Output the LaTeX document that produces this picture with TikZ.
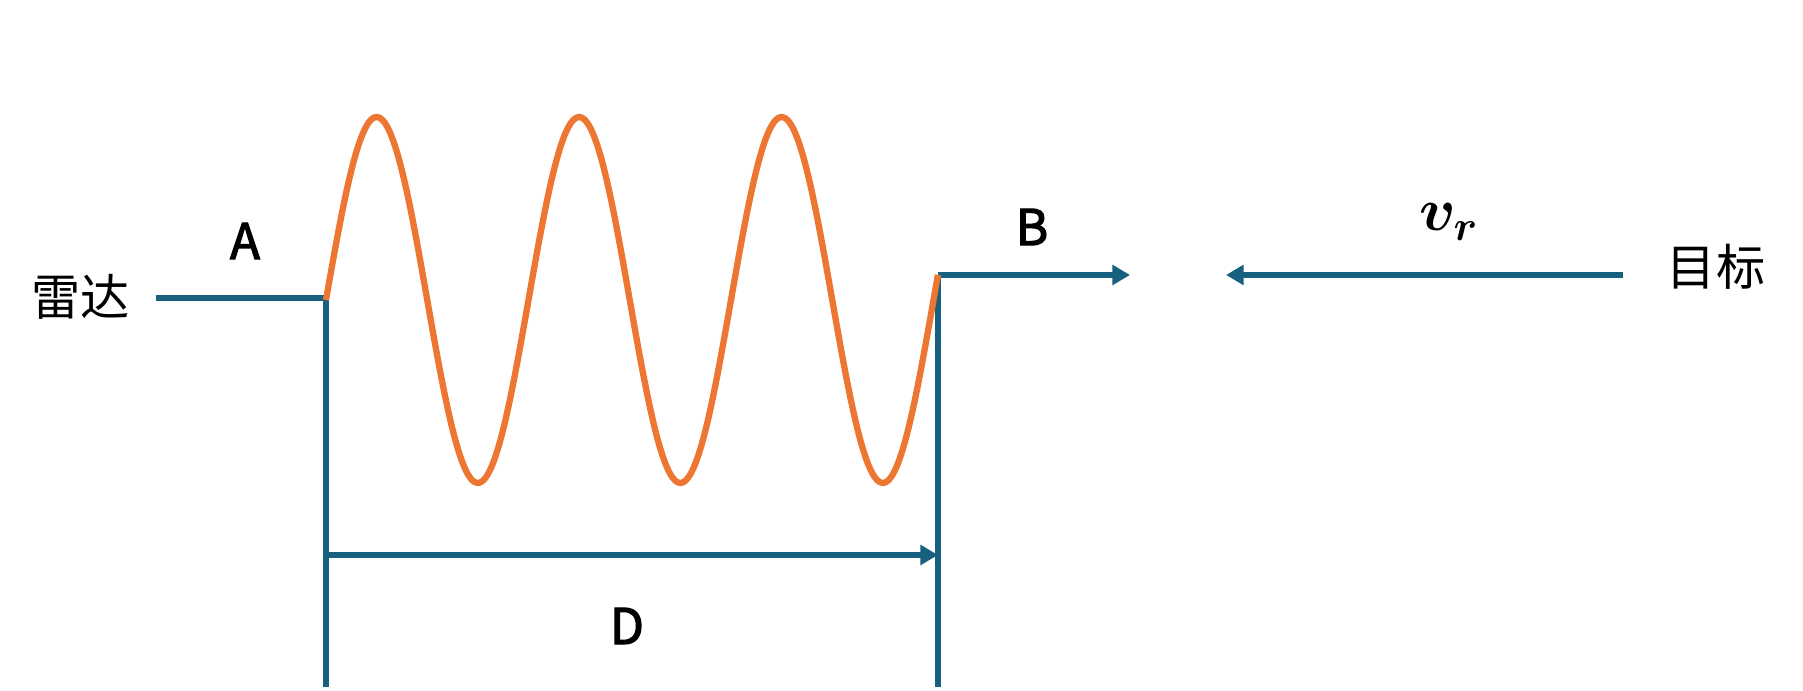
\documentclass[tikz,border=0pt]{standalone}
\usepackage{amsmath,bm}
\usepackage{fontspec}
\setmainfont{Noto Sans CJK SC}
\newfontfamily\letterfont[FakeBold=2.5]{Noto Sans CJK SC}
\usetikzlibrary{arrows.meta,positioning}

\definecolor{lineblue}{RGB}{24,96,128}
\definecolor{waveorange}{RGB}{237,119,50}

\begin{document}
\begin{tikzpicture}[
    line/.style={draw=lineblue, line width=1.7pt},
    arrow/.style={line, -{Triangle[length=5pt, width=5.5pt]}},
    wave/.style={draw=waveorange, line width=1.8pt, line join=round},
    label/.style={font=\fontsize{14}{16}\selectfont, inner sep=0pt},
    letter/.style={label, font=\fontsize{14}{16}\selectfont\letterfont},
]
    \useasboundingbox (0,0) rectangle (18.03,6.91);

    % labels
    \node[label] (radar) at (0.81,3.94) {雷达};
    \node[label] (target) at (17.16,4.24) {目标};
    \node[letter] (A) at (2.45,4.50) {A};
    \node[letter] (B) at (10.32,4.64) {B};
    \node[letter] (D) at (6.27,0.65) {D};
    \node[inner sep=0pt, font=\fontsize{18}{20}\selectfont] (vr) at (14.49,4.69) {$\bm{v_r}$};

    % end points of the lines
    \coordinate (aStart) at (1.56,3.93);
    \coordinate (aEnd) at (3.26,3.93);
    \coordinate (leftFoot) at (3.26,0.04);
    \coordinate (bStart) at (9.38,4.16);
    \coordinate (bEnd) at (11.30,4.16);
    \coordinate (rightFoot) at (9.38,0.04);
    \coordinate (dLeft) at (3.26,1.36);
    \coordinate (dRight) at (9.38,1.36);
    \coordinate (vStart) at (16.23,4.16);
    \coordinate (vEnd) at (12.26,4.16);

    \draw[line] (aStart) -- (aEnd) -- (leftFoot);
    \draw[line] (rightFoot) -- (bStart);
    \draw[arrow] (bStart) -- (bEnd);
    \draw[arrow] (dLeft) -- (dRight);
    \draw[arrow] (vStart) -- (vEnd);

    % the wave between A and B
    \draw[wave] plot[domain=0:6.12, samples=241, smooth] ({3.26+\x},{3.91+1.83*sin(\x*360/2.025)});
\end{tikzpicture}
\end{document}
